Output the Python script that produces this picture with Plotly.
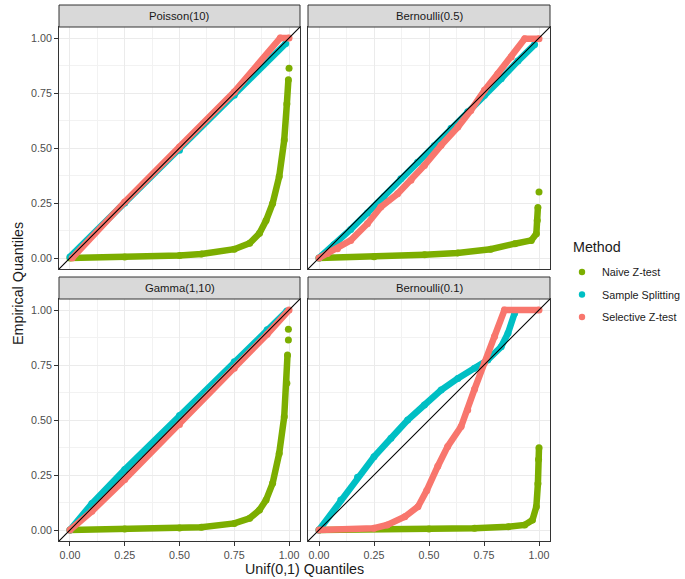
import plotly.graph_objects as go

# ---------------- data ----------------
panels = ["Poisson(10)", "Bernoulli(0.5)", "Gamma(1,10)", "Bernoulli(0.1)"]
methods = ["Naive Z-test", "Sample Splitting", "Selective Z-test"]
colors = {"Naive Z-test": "#7CAE00", "Sample Splitting": "#00BFC4", "Selective Z-test": "#F8766D"}
tick_vals = [0, 0.25, 0.5, 0.75, 1.0]
tick_text = ["0.00", "0.25", "0.50", "0.75", "1.00"]
abline_intercept = 0.0
abline_slope = 1.0

poisson_naive_x = [0, 0.25, 0.5, 0.6, 0.75, 0.82, 0.865, 0.895, 0.925, 0.955, 0.978, 0.99, 0.997, None, 1.0]
poisson_naive_y = [0, 0.004, 0.011, 0.018, 0.04, 0.067, 0.112, 0.17, 0.248, 0.37, 0.536, 0.70, 0.81, None, 0.862]
poisson_split_x = [0, 0.25, 0.5, 0.75, 0.985]
poisson_split_y = [0.005, 0.25, 0.49, 0.74, 0.975]
poisson_sel_x = [0.01, 0.25, 0.5, 0.75, 0.96, 1.0]
poisson_sel_y = [0, 0.255, 0.505, 0.755, 1.0, 1.0]

bern5_naive_x = [0, 0.25, 0.48, 0.63, 0.78, 0.89, 0.965, 0.988, 0.992, 0.995, None, 1.0]
bern5_naive_y = [0, 0.006, 0.015, 0.023, 0.04, 0.065, 0.08, 0.11, 0.17, 0.23, None, 0.30]
bern5_split_x = [0, 0.068, 0.144, 0.22, 0.296, 0.372, 0.448, 0.524, 0.6, 0.676, 0.752, 0.828, 0.904, 0.98]
bern5_split_y = [0, 0.06, 0.13, 0.205, 0.28, 0.36, 0.435, 0.51, 0.59, 0.665, 0.74, 0.815, 0.895, 0.97]
bern5_sel_x = [0, 0.038, 0.084, 0.144, 0.22, 0.281, 0.357, 0.418, 0.479, 0.555, 0.631, 0.69, 0.752, 0.813, 0.874, 0.935, 1.0]
bern5_sel_y = [0, 0.02, 0.042, 0.08, 0.156, 0.232, 0.292, 0.353, 0.421, 0.512, 0.595, 0.671, 0.762, 0.838, 0.914, 0.997, 0.997]

gamma_naive_x = [0, 0.25, 0.5, 0.6, 0.75, 0.82, 0.865, 0.895, 0.925, 0.955, 0.978, 0.99, 0.993, None, 0.997, None, 0.997]
gamma_naive_y = [0, 0.004, 0.009, 0.013, 0.03, 0.053, 0.091, 0.136, 0.212, 0.348, 0.515, 0.667, 0.795, None, 0.864, None, 0.912]
gamma_split_x = [0, 0.1, 0.25, 0.5, 0.75, 0.9, 0.99]
gamma_split_y = [0, 0.12, 0.275, 0.52, 0.765, 0.91, 0.995]
gamma_sel_x = [0, 0.1, 0.25, 0.5, 0.75, 0.9, 1.0]
gamma_sel_y = [0, 0.085, 0.23, 0.48, 0.735, 0.89, 1.0]

bern1_naive_x = [0, 0.5, 0.707, 0.86, 0.935, 0.97, 0.988, 0.995, 0.998, 1.0]
bern1_naive_y = [0, 0.004, 0.008, 0.015, 0.023, 0.045, 0.106, 0.21, 0.32, 0.374]
bern1_split_x = [0, 0.099, 0.175, 0.25, 0.327, 0.403, 0.479, 0.555, 0.631, 0.707, 0.767, 0.828, 0.859, 0.889]
bern1_split_y = [0, 0.136, 0.24, 0.333, 0.417, 0.5, 0.568, 0.636, 0.689, 0.735, 0.773, 0.833, 0.894, 0.985]
bern1_sel_x = [0, 0.25, 0.31, 0.39, 0.45, 0.49, 0.54, 0.585, 0.646, 0.676, 0.707, 0.752, 0.798, 0.843, 1.0]
bern1_sel_y = [0, 0.008, 0.023, 0.06, 0.106, 0.18, 0.29, 0.38, 0.47, 0.545, 0.64, 0.76, 0.88, 1.0, 1.0]

series = {
    "Poisson(10)": {"Naive Z-test": (poisson_naive_x, poisson_naive_y),
                    "Sample Splitting": (poisson_split_x, poisson_split_y),
                    "Selective Z-test": (poisson_sel_x, poisson_sel_y)},
    "Bernoulli(0.5)": {"Naive Z-test": (bern5_naive_x, bern5_naive_y),
                       "Sample Splitting": (bern5_split_x, bern5_split_y),
                       "Selective Z-test": (bern5_sel_x, bern5_sel_y)},
    "Gamma(1,10)": {"Naive Z-test": (gamma_naive_x, gamma_naive_y),
                    "Sample Splitting": (gamma_split_x, gamma_split_y),
                    "Selective Z-test": (gamma_sel_x, gamma_sel_y)},
    "Bernoulli(0.1)": {"Naive Z-test": (bern1_naive_x, bern1_naive_y),
                       "Sample Splitting": (bern1_split_x, bern1_split_y),
                       "Selective Z-test": (bern1_sel_x, bern1_sel_y)},
}

# ---------------- layout geometry (pixels) ----------------
W, H = 685, 579
# left, right, top, bottom of each panel
boxes = {
    "Poisson(10)": (59, 300, 27, 269),
    "Bernoulli(0.5)": (308, 550, 27, 269),
    "Gamma(1,10)": (59, 300, 299, 541),
    "Bernoulli(0.1)": (308, 550, 299, 541),
}
STRIP = 22
AX_RANGE = [-0.05, 1.05]
FONT = "Liberation Sans, Arial, Helvetica, sans-serif"

fig = go.Figure()
layout = dict(
    width=W, height=H, margin=dict(l=0, r=0, t=0, b=0, autoexpand=False),
    paper_bgcolor="white", plot_bgcolor="white",
    font=dict(family=FONT, size=12, color="#1A1A1A"),
    showlegend=False,
)
shapes = []
annotations = []

for i, p in enumerate(panels):
    n = i + 1
    xa = "x" if n == 1 else f"x{n}"
    ya = "y" if n == 1 else f"y{n}"
    l, r, t, b = boxes[p]
    bottom_row = p in ("Gamma(1,10)", "Bernoulli(0.1)")
    left_col = p in ("Poisson(10)", "Gamma(1,10)")
    common = dict(
        range=AX_RANGE, tickvals=tick_vals, ticktext=tick_text,
        showgrid=True, gridcolor="#EBEBEB", gridwidth=1.1,
        minor=dict(tick0=0.125, dtick=0.25, showgrid=True, gridcolor="#F2F2F2", gridwidth=0.6),
        zeroline=False, showline=True, mirror=True, linecolor="#333333", linewidth=1,
        tickfont=dict(family=FONT, size=10.7, color="#4D4D4D"),
        tickcolor="#333333", ticklen=4, tickwidth=1,
        fixedrange=True,
    )
    layout["xaxis" + ("" if n == 1 else str(n))] = dict(
        common, domain=[l / W, r / W], anchor=ya,
        showticklabels=bottom_row, ticks="outside" if bottom_row else "",
    )
    layout["yaxis" + ("" if n == 1 else str(n))] = dict(
        common, domain=[1 - b / H, 1 - t / H], anchor=xa,
        showticklabels=left_col, ticks="outside" if left_col else "",
    )
    # strip
    shapes.append(dict(type="rect", xref="paper", yref="paper",
                       x0=l / W, x1=r / W, y0=1 - t / H, y1=1 - (t - STRIP) / H,
                       fillcolor="#D9D9D9", line=dict(color="#333333", width=1), layer="above"))
    annotations.append(dict(text=p, xref="paper", yref="paper",
                            x=(l + r) / 2 / W, y=1 - (t - STRIP / 2) / H,
                            showarrow=False, xanchor="center", yanchor="middle",
                            font=dict(family=FONT, size=11.3, color="#1A1A1A")))
    # series
    for m in methods:
        xs, ys = series[p][m]
        fig.add_trace(go.Scatter(
            x=xs, y=ys, xaxis=xa, yaxis=ya, mode="lines+markers",
            line=dict(color=colors[m], width=6.5),
            marker=dict(color=colors[m], size=7),
            connectgaps=False, showlegend=False, hoverinfo="skip", name=m,
        ))
    # y = x reference line spanning the panel
    shapes.append(dict(type="line", xref=xa, yref=ya,
                       x0=AX_RANGE[0], y0=abline_intercept + abline_slope * AX_RANGE[0],
                       x1=AX_RANGE[1], y1=abline_intercept + abline_slope * AX_RANGE[1],
                       line=dict(color="black", width=1.1), layer="above"))

# manual legend (keys + labels), placed like ggplot's legend
LEG_KEY_X, LEG_TEXT_X, LEG_Y0, LEG_DY, KEY_R = 582, 600, 272, 22.5, 3.2
for k, m in enumerate(methods):
    cy = LEG_Y0 + k * LEG_DY
    shapes.append(dict(type="circle", xref="paper", yref="paper",
                       x0=(LEG_KEY_X - KEY_R) / W, x1=(LEG_KEY_X + KEY_R) / W,
                       y0=1 - (cy + KEY_R) / H, y1=1 - (cy - KEY_R) / H,
                       fillcolor=colors[m], line=dict(width=0)))
    annotations.append(dict(text=m, xref="paper", yref="paper",
                            x=LEG_TEXT_X / W, y=1 - cy / H, showarrow=False,
                            xanchor="left", yanchor="middle",
                            font=dict(family=FONT, size=10.8, color="#1A1A1A")))

# axis titles and legend title
annotations.append(dict(text="Unif(0,1) Quantiles", xref="paper", yref="paper",
                        x=(59 + 550) / 2 / W, y=1 - 569 / H, showarrow=False,
                        xanchor="center", yanchor="middle",
                        font=dict(family=FONT, size=14.3, color="#1A1A1A")))
annotations.append(dict(text="Empirical Quantiles", xref="paper", yref="paper",
                        x=18 / W, y=1 - 284 / H, showarrow=False, textangle=-90,
                        xanchor="center", yanchor="middle",
                        font=dict(family=FONT, size=14.3, color="#1A1A1A")))
annotations.append(dict(text="Method", xref="paper", yref="paper",
                        x=571 / W, y=1 - 247 / H, showarrow=False,
                        xanchor="left", yanchor="middle",
                        font=dict(family=FONT, size=14.3, color="#1A1A1A")))

layout["shapes"] = shapes
layout["annotations"] = annotations
fig.update_layout(**layout)
fig.write_html("out.html", config={"displayModeBar": False},
               post_script="document.body.style.margin='0px';document.body.style.overflow='hidden';")
